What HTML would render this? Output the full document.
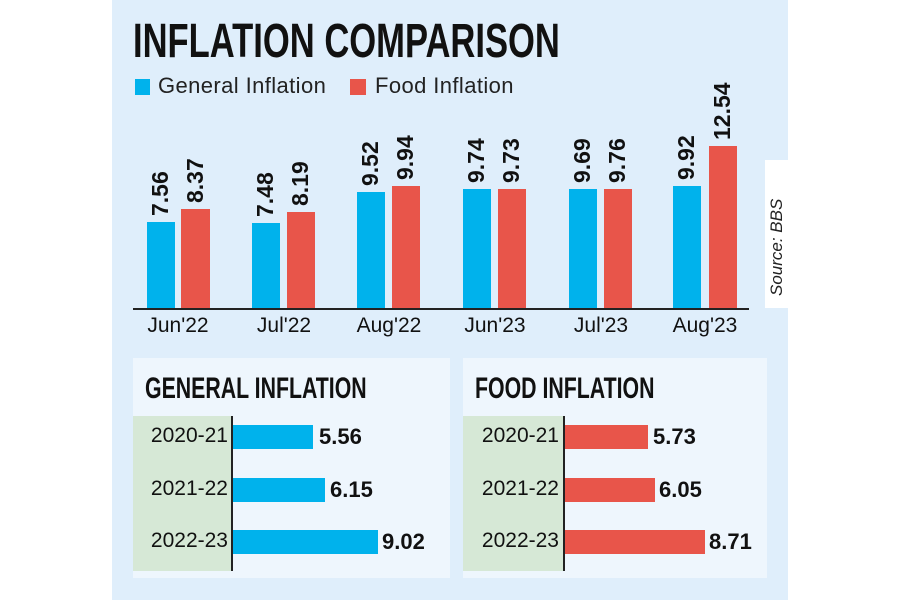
<!DOCTYPE html>
<html><head><style>
body{margin:0;width:900px;height:600px;background:#fff;position:relative;overflow:hidden;font-family:"Liberation Sans",sans-serif;}
.a{position:absolute}
.title{font-weight:bold;color:#111;white-space:nowrap;transform-origin:0 0;}
.bar{position:absolute}
.b{background:#00b2ec}.r{background:#e8554a}
.v{position:absolute;font-weight:bold;font-size:23px;color:#111;transform:rotate(-90deg);transform-origin:0 0;white-space:nowrap}
.m{position:absolute;font-size:21px;color:#111;width:90px;text-align:center;top:314px}
.yl{position:absolute;font-size:21px;color:#111;width:93px;text-align:right}
.hv{position:absolute;font-weight:bold;font-size:22px;color:#111}
</style></head><body>
<div class="a" style="left:112px;top:0;width:676px;height:600px;background:#dfeefb"></div>
<div class="a" style="left:765px;top:160px;width:23px;height:148px;background:#fff"></div>
<div class="a title" style="left:133px;top:14px;font-size:48px;transform:scaleX(0.72)">INFLATION COMPARISON</div>
<div class="a b" style="left:135px;top:79px;width:15px;height:16px"></div>
<div class="a" style="left:158px;top:73px;font-size:22px;color:#222;letter-spacing:0.4px">General Inflation</div>
<div class="a r" style="left:350px;top:79px;width:16px;height:16px"></div>
<div class="a" style="left:375px;top:73px;font-size:22px;color:#222;letter-spacing:0.4px">Food Inflation</div>
<div class="a" style="left:767px;top:296px;font-size:17px;font-style:italic;color:#222;transform:rotate(-90deg);transform-origin:0 0;white-space:nowrap">Source: BBS</div>

<div class="bar b" style="left:147px;top:222px;width:28px;height:86px"></div>
<div class="bar r" style="left:181px;top:209px;width:29px;height:99px"></div>
<div class="bar b" style="left:252px;top:223px;width:28px;height:85px"></div>
<div class="bar r" style="left:287px;top:212px;width:28px;height:96px"></div>
<div class="bar b" style="left:357px;top:192px;width:28px;height:116px"></div>
<div class="bar r" style="left:392px;top:186px;width:28px;height:122px"></div>
<div class="bar b" style="left:463px;top:189px;width:28px;height:119px"></div>
<div class="bar r" style="left:498px;top:189px;width:28px;height:119px"></div>
<div class="bar b" style="left:569px;top:189px;width:28px;height:119px"></div>
<div class="bar r" style="left:604px;top:189px;width:28px;height:119px"></div>
<div class="bar b" style="left:673px;top:186px;width:28px;height:122px"></div>
<div class="bar r" style="left:709px;top:146px;width:28px;height:162px"></div>
<div class="a" style="left:133px;top:308px;width:616px;height:2px;background:#222"></div>

<div class="v" style="left:147px;top:216px">7.56</div>
<div class="v" style="left:182px;top:203px">8.37</div>
<div class="v" style="left:252px;top:217px">7.48</div>
<div class="v" style="left:287px;top:206px">8.19</div>
<div class="v" style="left:357px;top:186px">9.52</div>
<div class="v" style="left:392px;top:180px">9.94</div>
<div class="v" style="left:463px;top:183px">9.74</div>
<div class="v" style="left:498px;top:183px">9.73</div>
<div class="v" style="left:569px;top:183px">9.69</div>
<div class="v" style="left:604px;top:183px">9.76</div>
<div class="v" style="left:673px;top:180px">9.92</div>
<div class="v" style="left:709px;top:140px">12.54</div>

<div class="m" style="left:133px">Jun'22</div>
<div class="m" style="left:239px">Jul'22</div>
<div class="m" style="left:344px">Aug'22</div>
<div class="m" style="left:450px">Jun'23</div>
<div class="m" style="left:556px">Jul'23</div>
<div class="m" style="left:660px">Aug'23</div>

<div class="a" style="left:133px;top:358px;width:317px;height:220px;background:#eef6fd"></div>
<div class="a" style="left:463px;top:358px;width:304px;height:220px;background:#eef6fd"></div>
<div class="a" style="left:133px;top:416px;width:99px;height:155px;background:#d6e8d6"></div>
<div class="a" style="left:463px;top:416px;width:100px;height:155px;background:#d6e8d6"></div>
<div class="a" style="left:231px;top:416px;width:2px;height:155px;background:#222"></div>
<div class="a" style="left:563px;top:416px;width:2px;height:155px;background:#222"></div>
<div class="a title" style="left:145px;top:372px;font-size:30px;transform:scaleX(0.71)">GENERAL INFLATION</div>
<div class="a title" style="left:475px;top:372px;font-size:30px;transform:scaleX(0.71)">FOOD INFLATION</div>

<div class="yl" style="left:135px;top:424px">2020-21</div>
<div class="yl" style="left:135px;top:477px">2021-22</div>
<div class="yl" style="left:135px;top:529px">2022-23</div>
<div class="yl" style="left:466px;top:424px">2020-21</div>
<div class="yl" style="left:466px;top:477px">2021-22</div>
<div class="yl" style="left:466px;top:529px">2022-23</div>

<div class="bar b" style="left:233px;top:425px;width:80px;height:24px"></div>
<div class="bar b" style="left:233px;top:478px;width:92px;height:24px"></div>
<div class="bar b" style="left:233px;top:530px;width:145px;height:24px"></div>
<div class="bar r" style="left:565px;top:425px;width:83px;height:24px"></div>
<div class="bar r" style="left:565px;top:478px;width:90px;height:24px"></div>
<div class="bar r" style="left:565px;top:530px;width:140px;height:24px"></div>
<div class="hv" style="left:319px;top:424px">5.56</div>
<div class="hv" style="left:330px;top:477px">6.15</div>
<div class="hv" style="left:382px;top:529px">9.02</div>
<div class="hv" style="left:653px;top:424px">5.73</div>
<div class="hv" style="left:659px;top:477px">6.05</div>
<div class="hv" style="left:709px;top:529px">8.71</div>
</body></html>
